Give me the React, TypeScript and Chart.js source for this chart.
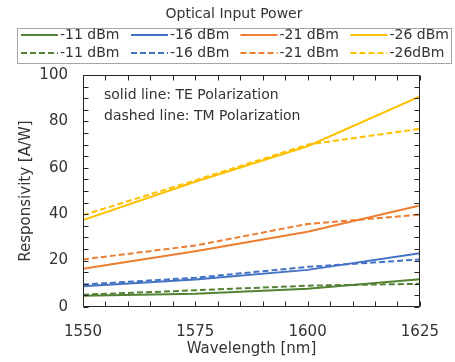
import React, { useEffect, useRef } from 'react';
import { Chart, registerables } from 'chart.js';

Chart.register(...registerables);

const wavelengths = [1550, 1575, 1600, 1625];
const te11 = [4.9, 5.7, 7.9, 12.0];
const te16 = [8.9, 11.9, 16.0, 23.2];
const te21 = [16.5, 24.0, 32.4, 43.8];
const te26 = [37.5, 54.0, 69.3, 90.8];
const tm11 = [5.3, 7.2, 9.2, 10.0];
const tm16 = [9.7, 12.6, 17.3, 20.5];
const tm21 = [20.5, 26.5, 35.8, 39.8];
const tm26 = [39.6, 54.6, 70.0, 76.8];
const teLabels = ['-11 dBm', '-16 dBm', '-21 dBm', '-26 dBm'];
const tmLabels = ['-11 dBm', '-16 dBm', '-21 dBm', '-26dBm'];
const legendTitle = 'Optical Input Power';
const notes = ['solid line: TE Polarization', 'dashed line: TM Polarization'];
const xTitle = 'Wavelength [nm]';
const yTitle = 'Responsivity [A/W]';

const colors = ['#548235', '#4472C4', '#ED7D31', '#FFC000'];
const dash = [6, 3];
const FONT = '"DejaVu Sans", Verdana, sans-serif';
const TEXT = '#333333';

const toPts = (vals: number[]) => vals.map((v, i) => ({ x: wavelengths[i], y: v }));

const decor = {
  id: 'decor',
  afterDatasetsDraw(chart: any) {
    const { ctx, chartArea: a, scales } = chart;
    const x = scales.x;
    const y = scales.y;
    ctx.save();
    ctx.strokeStyle = '#262626';
    ctx.lineWidth = 1;
    ctx.beginPath();
    const L = Math.round(a.left) + 0.5;
    const R = Math.round(a.right) - 0.5;
    const T = Math.round(a.top) + 0.5;
    const B = Math.round(a.bottom) - 0.5;
    ctx.rect(L, T, R - L, B - T);
    const tl = 5;
    for (let v = x.min; v <= x.max + 0.001; v += 5) {
      const p = Math.round(x.getPixelForValue(v)) + 0.5;
      ctx.moveTo(p, B); ctx.lineTo(p, B - tl);
      ctx.moveTo(p, T); ctx.lineTo(p, T + tl);
    }
    for (let v = y.min; v <= y.max + 0.001; v += 5) {
      const p = Math.round(y.getPixelForValue(v)) + 0.5;
      ctx.moveTo(L, p); ctx.lineTo(L + tl, p);
      ctx.moveTo(R, p); ctx.lineTo(R - tl, p);
    }
    ctx.stroke();

    // notes
    ctx.fillStyle = TEXT;
    ctx.font = `14px ${FONT}`;
    ctx.textBaseline = 'middle';
    ctx.textAlign = 'left';
    notes.forEach((n, i) => ctx.fillText(n, a.left + 21, a.top + 20 + i * 21));
    ctx.restore();
  },
  afterDraw(chart: any) {
    const { ctx } = chart;
    ctx.save();
    ctx.fillStyle = TEXT;
    ctx.font = `14px ${FONT}`;
    ctx.textBaseline = 'middle';
    ctx.textAlign = 'center';
    ctx.fillText(legendTitle, 234, 14);
    ctx.strokeStyle = '#a6a6a6';
    ctx.lineWidth = 1;
    ctx.strokeRect(17.5, 28.5, 434, 35);
    const colX = [21, 131, 240.5, 350.5];
    const rowY = [35, 53];
    chart.data.datasets.forEach((ds: any, i: number) => {
      const c = i % 4;
      const r = Math.floor(i / 4);
      const x0 = colX[c];
      const yy = rowY[r];
      ctx.save();
      ctx.strokeStyle = ds.borderColor;
      ctx.lineWidth = 2;
      ctx.setLineDash(ds.borderDash || []);
      ctx.beginPath();
      ctx.moveTo(x0, yy);
      ctx.lineTo(x0 + 37, yy);
      ctx.stroke();
      ctx.restore();
      ctx.textAlign = 'left';
      ctx.fillStyle = TEXT;
      ctx.fillText(ds.label, x0 + 39, yy);
    });
    ctx.restore();
  },
};

export default function App() {
  const ref = useRef<HTMLCanvasElement | null>(null);
  useEffect(() => {
    if (!ref.current) return;
    const teSets = [te11, te16, te21, te26];
    const tmSets = [tm11, tm16, tm21, tm26];
    const datasets: any[] = [];
    teSets.forEach((s, i) =>
      datasets.push({ label: teLabels[i], data: toPts(s), borderColor: colors[i], backgroundColor: colors[i], borderWidth: 2, pointRadius: 0, tension: 0, fill: false })
    );
    tmSets.forEach((s, i) =>
      datasets.push({ label: tmLabels[i], data: toPts(s), borderColor: colors[i], backgroundColor: colors[i], borderWidth: 2, borderDash: dash, pointRadius: 0, tension: 0, fill: false })
    );
    const chart = new Chart(ref.current, {
      type: 'line',
      data: { datasets },
      options: {
        animation: false,
        responsive: false,
        devicePixelRatio: 1,
        layout: { padding: { top: 75, right: 22, left: 0, bottom: 0 } },
        plugins: { legend: { display: false }, tooltip: { enabled: false } },
        scales: {
          x: {
            type: 'linear',
            min: 1550,
            max: 1625,
            grid: { display: false, drawTicks: false },
            border: { display: false },
            ticks: { stepSize: 25, padding: 16, color: TEXT, font: { family: FONT, size: 15 }, maxRotation: 0, callback: (v: any) => String(v) },
            title: { display: true, text: xTitle, color: TEXT, font: { family: FONT, size: 15 }, padding: { top: 0, bottom: 4 } },
            afterFit: (s: any) => { s.height = 55; },
          },
          y: {
            type: 'linear',
            min: 0,
            max: 100,
            grid: { display: false, drawTicks: false },
            border: { display: false },
            ticks: { stepSize: 20, padding: 15, color: TEXT, font: { family: FONT, size: 15 } },
            title: { display: true, text: yTitle, color: TEXT, font: { family: FONT, size: 15 }, padding: { top: 17, bottom: 0 } },
            afterFit: (s: any) => { s.width = 83; },
          },
        },
      },
      plugins: [decor],
    });
    return () => chart.destroy();
  }, []);
  return (
    <div style={{ position: 'absolute', left: 0, top: 0, width: 455, height: 362, background: '#fff' }}>
      <canvas ref={ref} width={455} height={362} style={{ display: 'block' }} />
    </div>
  );
}
